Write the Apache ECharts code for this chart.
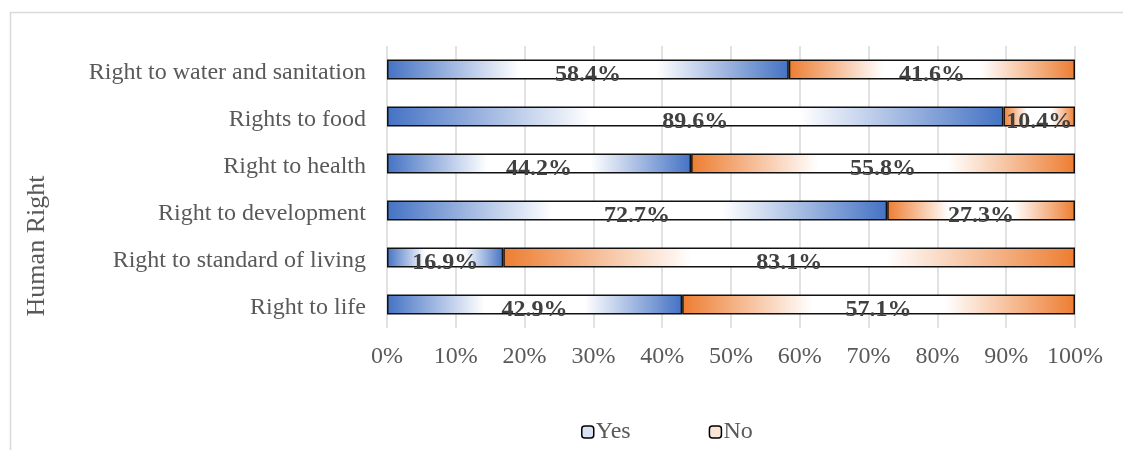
<!DOCTYPE html>
<html>
<head>
<meta charset="utf-8">
<script src="https://cdn.jsdelivr.net/npm/echarts@6/dist/echarts.min.js"></script>
<style>
  html, body { margin: 0; padding: 0; background: #ffffff; }
  #chart { width: 1123px; height: 450px; }
</style>
</head>
<body>
<div id="chart"></div>
<script>
// Survey share of respondents per human right (top to bottom)
const categories = [
  'Right to water and sanitation',
  'Rights to food',
  'Right to health',
  'Right to development',
  'Right to standard of living',
  'Right to life'
];
const yesValues = [58.4, 89.6, 44.2, 72.7, 16.9, 42.9];
const noValues = [41.6, 10.4, 55.8, 27.3, 83.1, 57.1];
const xTicks = [0, 10, 20, 30, 40, 50, 60, 70, 80, 90, 100];

const FONT = "'Liberation Serif', 'Times New Roman', serif";
const BLUE = '#4472C4';
const ORANGE = '#ED7D31';

// Colour at both ends of each bar, white through the middle third
function fade(color) {
  return new echarts.graphic.LinearGradient(0, 0, 1, 0, [
    { offset: 0, color: color },
    { offset: 0.33, color: '#ffffff' },
    { offset: 0.67, color: '#ffffff' },
    { offset: 1, color: color }
  ]);
}

const barLabel = {
  show: true,
  position: 'inside',
  offset: [0, 5],
  fontFamily: FONT,
  fontWeight: 'bold',
  fontSize: 24,
  color: '#404040',
  formatter: p => p.value.toFixed(1) + '%'
};

const chart = echarts.init(document.getElementById('chart'), null, { renderer: 'canvas' });
chart.setOption({
  animation: false,
  backgroundColor: '#ffffff',
  textStyle: { fontFamily: FONT },
  grid: { left: 387, right: 48, top: 46, bottom: 122 },
  graphic: [
    {
      type: 'rect',
      shape: { x: 10.5, y: 12.5, width: 1200, height: 600 },
      style: { fill: 'none', stroke: '#d9d9d9', lineWidth: 1.5 },
      silent: true
    },
    {
      type: 'text',
      x: 37,
      y: 246,
      rotation: Math.PI / 2,
      style: {
        text: 'Human Right',
        fontFamily: FONT,
        fontSize: 26,
        fill: '#595959',
        align: 'center',
        verticalAlign: 'middle'
      }
    }
  ],
  legend: {
    left: 576,
    top: 415,
    itemWidth: 12,
    itemHeight: 12,
    itemGap: 78,
    textStyle: { fontFamily: FONT, fontSize: 24, color: '#595959', padding: [3, 0, 0, -3] },
    data: [
      { name: 'Yes', itemStyle: { color: '#dae3f3', borderColor: '#000000', borderWidth: 1.5 } },
      { name: 'No', itemStyle: { color: '#fbe5d6', borderColor: '#000000', borderWidth: 1.5 } }
    ]
  },
  xAxis: {
    type: 'value',
    min: xTicks[0],
    max: xTicks[xTicks.length - 1],
    interval: xTicks[1] - xTicks[0],
    axisLine: { show: false },
    axisTick: { show: false },
    axisLabel: {
      fontFamily: FONT,
      fontSize: 24,
      color: '#595959',
      margin: 17,
      formatter: '{value}%'
    },
    splitLine: { show: true, lineStyle: { color: '#d9d9d9', width: 1.5 } }
  },
  yAxis: {
    type: 'category',
    inverse: true,
    data: categories,
    axisLine: { show: false },
    axisTick: { show: false },
    axisLabel: {
      margin: 21,
      formatter: v => '{t|' + v + '}',
      rich: {
        t: {
          fontFamily: FONT,
          fontSize: 24,
          color: '#595959',
          padding: [6, 0, 0, 0]
        }
      }
    }
  },
  series: [
    {
      name: 'Yes',
      type: 'bar',
      stack: 'total',
      barWidth: 20,
      data: yesValues,
      itemStyle: { color: fade(BLUE), borderColor: '#111111', borderWidth: 1.5 },
      label: barLabel
    },
    {
      name: 'No',
      type: 'bar',
      stack: 'total',
      barWidth: 20,
      data: noValues,
      itemStyle: { color: fade(ORANGE), borderColor: '#111111', borderWidth: 1.5 },
      label: barLabel
    }
  ]
});
</script>
</body>
</html>
